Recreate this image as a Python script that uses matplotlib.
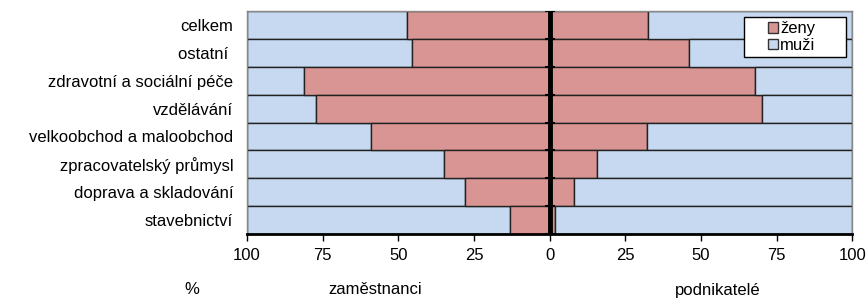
import numpy as np
import matplotlib
matplotlib.use("Agg")
import matplotlib.pyplot as plt
from matplotlib.patches import Patch, Rectangle

plt.rcParams['font.family'] = ['Liberation Sans', 'DejaVu Sans']

# data (% women; men = 100 - women)
categories = ["celkem", "ostatní ", "zdravotní a sociální péče", "vzdělávání",
              "velkoobchod a maloobchod", "zpracovatelský průmysl",
              "doprava a skladování", "stavebnictví"]
zeny_zamestnanci = [47, 45.5, 81.3, 77.3, 59, 34.8, 28, 13]
zeny_podnikatele = [32.5, 46, 67.9, 70.3, 32, 15.8, 8.1, 1.7]
ticks = [-100, -75, -50, -25, 0, 25, 50, 75, 100]

red = "#D99594"
blue = "#C6D9F0"

fig = plt.figure(figsize=(8.67, 3.0), dpi=100)
ax = fig.add_axes([0.285, 0.22, 0.698, 0.743])

y = np.arange(len(categories))
ze = np.array(zeny_zamestnanci)
zp = np.array(zeny_podnikatele)

kw = dict(height=1.0, edgecolor="#222222", linewidth=1.0)
# employees on the left
ax.barh(y, 100 - ze, left=-100, color=blue, **kw)
ax.barh(y, ze, left=-ze, color=red, **kw)
# entrepreneurs on the right
ax.barh(y, zp, left=0, color=red, **kw)
ax.barh(y, 100 - zp, left=zp, color=blue, **kw)

ax.axvline(0, color="black", linewidth=3.5, zorder=5)
ax.plot(np.zeros(len(y) + 1), np.arange(len(y) + 1) - 0.5, linestyle="none",
        marker="_", markersize=7, markeredgewidth=1.5, color="black", zorder=6)

ax.set_xlim(-100, 100)
ax.set_ylim(len(y) - 0.5, -0.5)
ax.set_yticks(y)
ax.set_yticklabels(categories, fontsize=12)
ax.tick_params(axis="y", length=0, pad=10)
ax.set_xticks(ticks)
ax.set_xticklabels([str(abs(t)) for t in ticks], fontsize=12)
ax.tick_params(axis="x", direction="out", length=5, width=1, pad=5)

for s in ["top", "left", "right"]:
    ax.spines[s].set_color("#888888")
    ax.spines[s].set_linewidth(1)
ax.spines["bottom"].set_linewidth(2)
ax.spines["bottom"].set_color("black")

# legend box (Excel style: wide frame, items centred)
ax.add_patch(Rectangle((0.821, 0.794), 0.169, 0.179, transform=ax.transAxes,
                       facecolor="white", edgecolor="black", linewidth=1,
                       zorder=7))
handles = [Patch(facecolor=red, edgecolor="#333333", label="ženy"),
           Patch(facecolor=blue, edgecolor="#333333", label="muži")]
leg = ax.legend(handles=handles, loc="center", bbox_to_anchor=(0.9, 0.883),
                fontsize=12, frameon=False, borderpad=0,
                handlelength=0.6, handleheight=0.6, handletextpad=0.15,
                labelspacing=0.1)
leg.set_zorder(8)

fig.text(192 / 867, 1 - 290 / 300, "%", fontsize=12, ha="center", va="center")
fig.text(375 / 867, 1 - 290 / 300, "zaměstnanci", fontsize=12, ha="center", va="center")
fig.text(718 / 867, 1 - 290 / 300, "podnikatelé", fontsize=12, ha="center", va="center")

fig.savefig("out.png", dpi=100)
